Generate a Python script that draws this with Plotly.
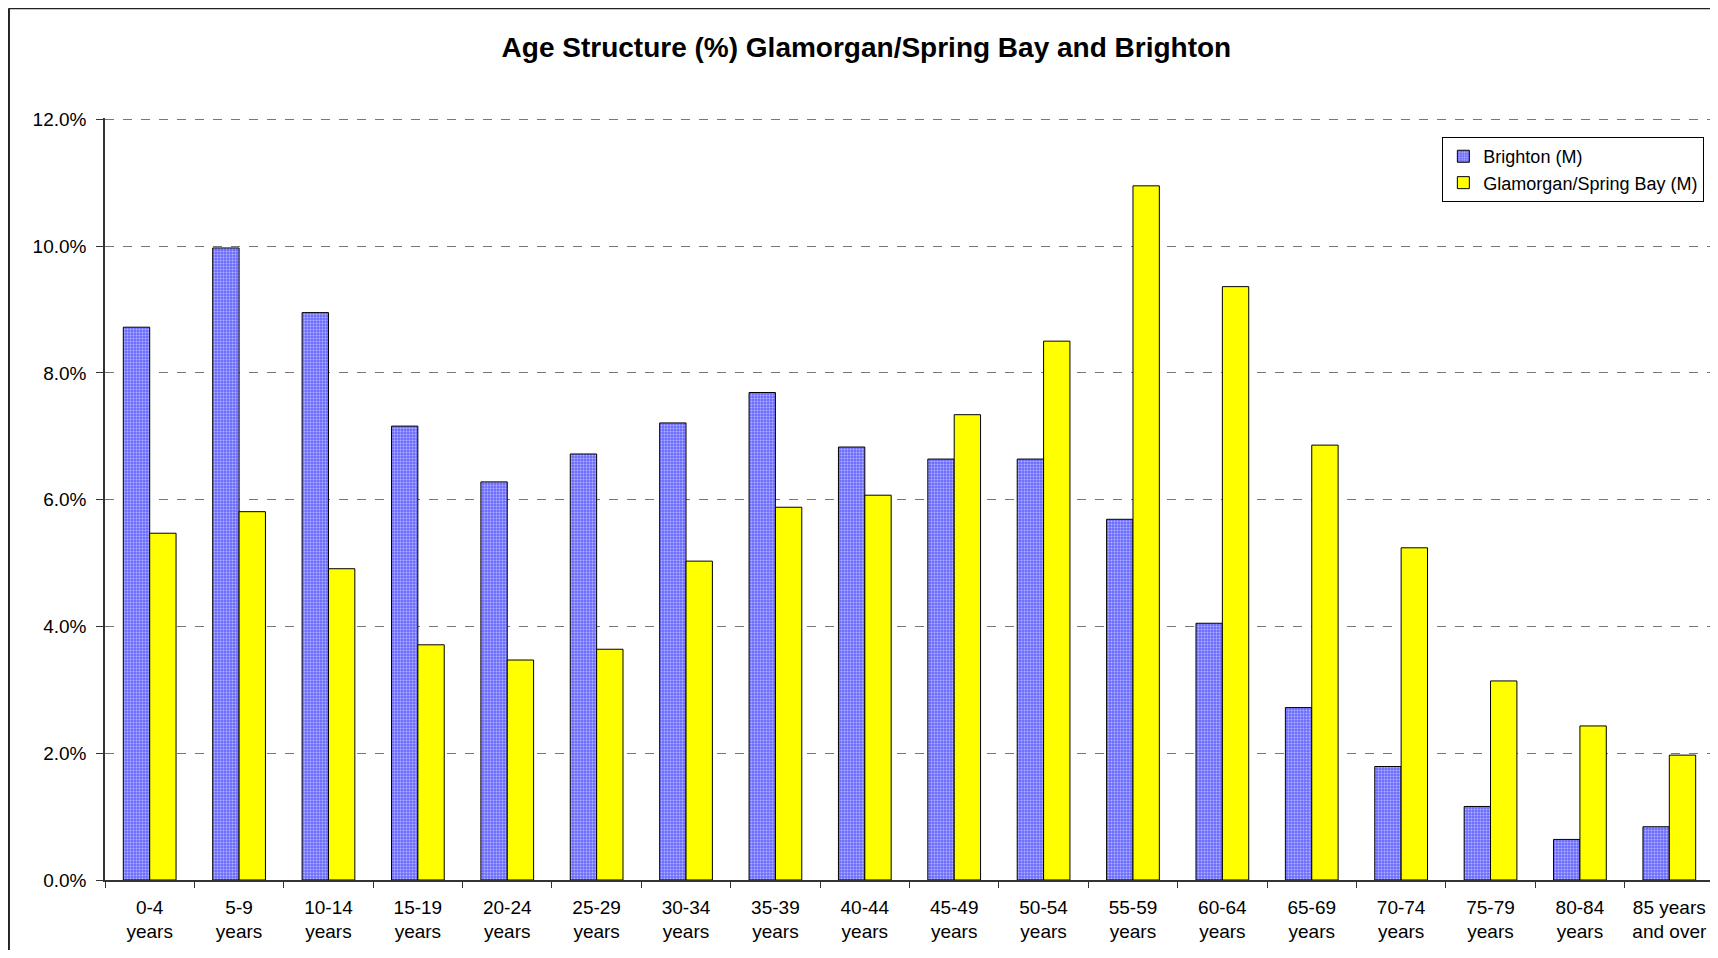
import plotly.graph_objects as go

age_groups = ["0-4<br>years", "5-9<br>years", "10-14<br>years", "15-19<br>years",
              "20-24<br>years", "25-29<br>years", "30-34<br>years", "35-39<br>years",
              "40-44<br>years", "45-49<br>years", "50-54<br>years", "55-59<br>years",
              "60-64<br>years", "65-69<br>years", "70-74<br>years", "75-79<br>years",
              "80-84<br>years", "85 years<br>and over"]

brighton = [8.72, 9.97, 8.95, 7.16, 6.28, 6.72, 7.21, 7.69, 6.83, 6.64, 6.64,
            5.69, 4.05, 2.72, 1.79, 1.16, 0.64, 0.84]
glamorgan = [5.47, 5.81, 4.91, 3.71, 3.47, 3.64, 5.03, 5.88, 6.07, 7.34, 8.50,
             10.95, 9.36, 6.86, 5.24, 3.14, 2.43, 1.97]

y_ticks = [0, 2, 4, 6, 8, 10, 12]
y_tick_labels = ["0.0%", "2.0%", "4.0%", "6.0%", "8.0%", "10.0%", "12.0%"]

font = "Liberation Sans, Arial, sans-serif"

fig = go.Figure()
fig.add_trace(go.Bar(
    x=age_groups, y=brighton, name="Brighton (M)",
    marker=dict(color="#6b6bff", line=dict(color="black", width=1),
                pattern=dict(shape=".", fgcolor="white", bgcolor="#6b6bff",
                             size=3, solidity=0.35)),
))
fig.add_trace(go.Bar(
    x=age_groups, y=glamorgan, name="Glamorgan/Spring Bay (M)",
    marker=dict(color="#ffff00", line=dict(color="black", width=1)),
))

# page has an 8px body margin, so the figure is sized to fit inside it
fig.update_layout(
    width=1710, height=942,
    margin=dict(l=97, r=4, t=110, b=70),
    paper_bgcolor="white", plot_bgcolor="white",
    font=dict(family=font, size=18, color="black"),
    title=dict(text="<b>Age Structure (%) Glamorgan/Spring Bay and Brighton</b>",
               x=0.502, xanchor="center", y=0.958, yanchor="middle",
               font=dict(size=28, family=font)),
    barmode="group", bargap=0.41, bargroupgap=0,
    legend=dict(x=0.994, xanchor="right", y=0.975, yanchor="top",
                bordercolor="black", borderwidth=1, bgcolor="white",
                font=dict(size=18), tracegroupgap=2),
    showlegend=True,
)
fig.update_xaxes(showline=True, linecolor="#333", linewidth=1.5,
                 ticks="outside", tickson="boundaries", ticklen=6,
                 tickcolor="#333", showgrid=False, ticklabelstandoff=9,
                 tickfont=dict(size=19))
fig.update_yaxes(range=[0, 12.02], tickvals=y_ticks, ticktext=y_tick_labels,
                 showline=True, linecolor="#333", linewidth=1.5,
                 ticks="outside", ticklen=7, tickcolor="#333",
                 showgrid=True, gridcolor="#777", griddash="dash", gridwidth=1.2,
                 zeroline=False, ticklabelstandoff=6, tickfont=dict(size=19))

# outer chart border: left, top and right edges (bottom is off the picture)
left, right, top, bottom = -0.0597, 1.0, 1.1441, -0.0919
for x0, y0, x1, y1, w in [(left, bottom, left, top, 2), (left, top, right, top, 2),
                          (right, bottom, right, top, 3)]:
    fig.add_shape(type="line", xref="paper", yref="paper",
                  x0=x0, y0=y0, x1=x1, y1=y1,
                  line=dict(color="#222", width=w), layer="above")

fig.write_html("out.html")
